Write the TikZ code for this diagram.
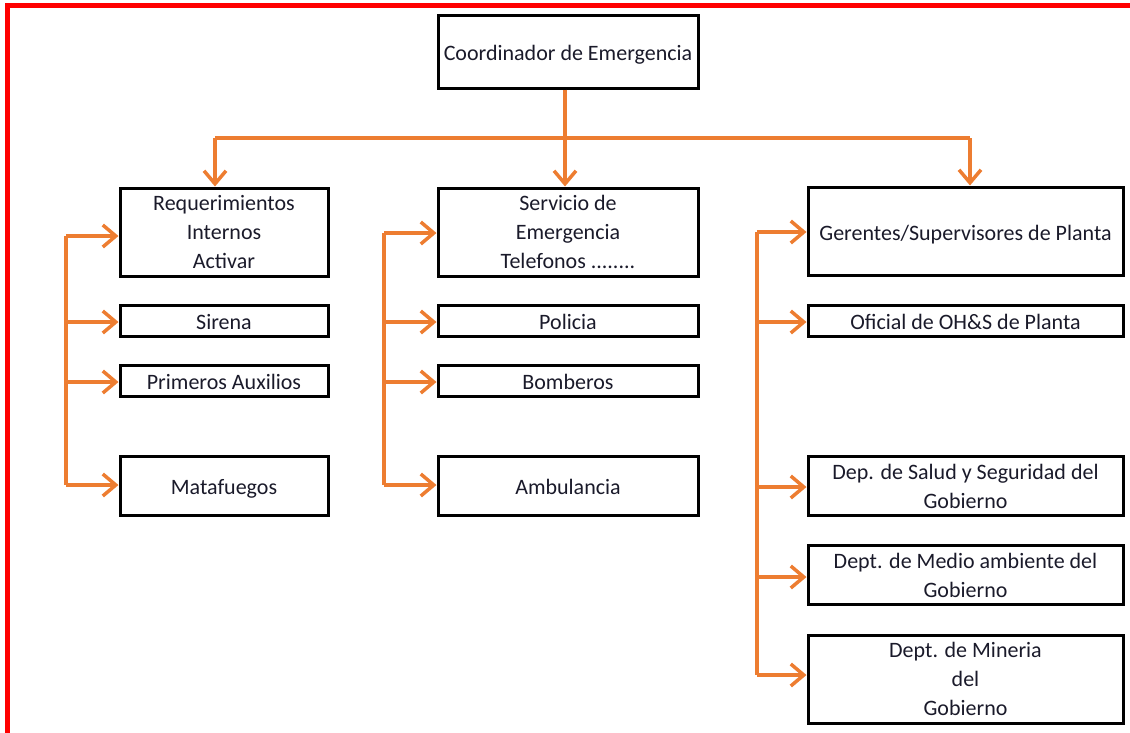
\documentclass[tikz,border=0pt]{standalone}
\usepackage{fontspec}
\setmainfont{Carlito}
\usetikzlibrary{arrows.meta}
\definecolor{org}{HTML}{ED7D31}
\definecolor{txt}{HTML}{1A1A2A}
\tikzset{
  box/.style={draw=black, line width=3pt, align=center, inner sep=0pt, text=txt,
    font=\fontsize{22}{29}\selectfont},
  one/.style={box, text height=19pt, text depth=1pt},
  link/.style={draw=org, line width=3.5pt},
  arr/.style={link, -{Straight Barb[length=13pt, width=22pt, line width=3.5pt]}}
}
\begin{document}
\begin{tikzpicture}[x=1pt,y=-1pt]
\useasboundingbox (0,0) rectangle (1130,732);
\draw[red, line width=5pt, line join=miter] (7,740) -- (7,5) -- (1135,5);

% top
\node[one, minimum width=260pt, minimum height=73pt] (coord) at (568,51.5) {Coordinador de Emergencia};

% column 1
\node[box, minimum width=208pt, minimum height=88pt] (req) at (224,232) {Requerimientos\\Internos\\Activar};
\node[one, minimum width=208pt, minimum height=31pt] (sir) at (224,320.5) {Sirena};
\node[one, minimum width=208pt, minimum height=31pt] (pri) at (224,380.5) {Primeros Auxilios};
\node[one, minimum width=208pt, minimum height=59pt] (mat) at (224,485.5) {Matafuegos};

% column 2
\node[box, minimum width=260pt, minimum height=88pt] (serv) at (568,232) {Servicio de\\Emergencia\\Telefonos ........};
\node[one, minimum width=260pt, minimum height=31pt] (pol) at (568,320.5) {Policia};
\node[one, minimum width=260pt, minimum height=31pt] (bom) at (568,380.5) {Bomberos};
\node[one, minimum width=260pt, minimum height=59pt] (amb) at (568,485.5) {Ambulancia};

% column 3
\node[one, minimum width=315pt, minimum height=88pt] (ger) at (965.5,231) {Gerentes/Supervisores de Planta};
\node[one, minimum width=315pt, minimum height=31pt] (ofi) at (965.5,320.5) {Oficial de OH\&S de Planta};
\node[box, minimum width=315pt, minimum height=59pt] (sal) at (965.5,486) {Dep. de Salud y Seguridad del\\Gobierno};
\node[box, minimum width=315pt, minimum height=59pt] (med) at (965.5,575) {Dept. de Medio ambiente del\\Gobierno};
\node[box, minimum width=315pt, minimum height=88pt] (min) at (965.5,679) {Dept. de Mineria\\del\\Gobierno};

% top distribution
\coordinate (hub) at (565,138);
\coordinate (hl) at (215,138);
\coordinate (hr) at (970,138);
\draw[link] (hl) -- (hr);
\draw[arr] (coord.south -| hub) -- (serv.north -| hub);
\draw[arr] (hl) -- (req.north -| hl);
\draw[arr] (hr) -- (ger.north -| hr);

% column 1 spine
\coordinate (a1) at (66,236);
\coordinate (a2) at (66,322);
\coordinate (a3) at (66,382);
\coordinate (a4) at (66,485);
\draw[link] (a1) -- (a4);
\draw[arr] (a1) -- (a1 -| req.west);
\draw[arr] (a2) -- (a2 -| sir.west);
\draw[arr] (a3) -- (a3 -| pri.west);
\draw[arr] (a4) -- (a4 -| mat.west);

% column 2 spine
\coordinate (b1) at (384,233);
\coordinate (b2) at (384,322);
\coordinate (b3) at (384,382);
\coordinate (b4) at (384,485);
\draw[link] (b1) -- (b4);
\draw[arr] (b1) -- (b1 -| serv.west);
\draw[arr] (b2) -- (b2 -| pol.west);
\draw[arr] (b3) -- (b3 -| bom.west);
\draw[arr] (b4) -- (b4 -| amb.west);

% column 3 spine
\coordinate (c1) at (757,232);
\coordinate (c2) at (757,322);
\coordinate (c3) at (757,487);
\coordinate (c4) at (757,577);
\coordinate (c5) at (757,675);
\draw[link] (c1) -- (c5);
\draw[arr] (c1) -- (c1 -| ger.west);
\draw[arr] (c2) -- (c2 -| ofi.west);
\draw[arr] (c3) -- (c3 -| sal.west);
\draw[arr] (c4) -- (c4 -| med.west);
\draw[arr] (c5) -- (c5 -| min.west);
\end{tikzpicture}
\end{document}
